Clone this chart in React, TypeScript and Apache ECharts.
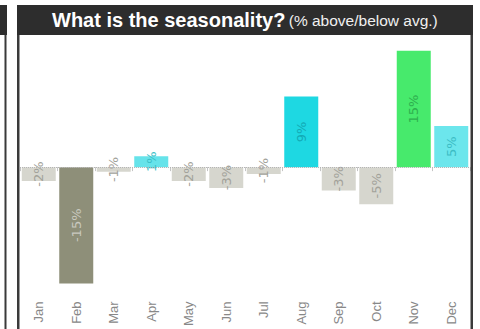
import React, { useEffect, useRef } from "react";
import * as echarts from "echarts";

const months = ["Jan", "Feb", "Mar", "Apr", "May", "Jun", "Jul", "Aug", "Sep", "Oct", "Nov", "Dec"];
const seasonality = [-1.8, -15.0, -0.6, 1.4, -1.8, -2.7, -0.9, 9.1, -3.0, -4.8, 15.0, 5.3];
const titleMain = "What is the seasonality?";
const titleSub = "(% above/below avg.)";

function barColor(v: number): string {
  if (v <= -10) return "#8e8f79";
  if (v < 0) return "#d6d6ce";
  if (v < 3) return "#66e3ea";
  if (v < 7) return "#6ce6ec";
  if (v < 12) return "#1ed8e2";
  return "#47ea6c";
}

function labelColor(v: number): string {
  if (v <= -10) return "#c9c9bf";
  if (v < 0) return "#a2a29a";
  if (v < 3) return "#3bbfc8";
  if (v < 7) return "#3cbcc4";
  if (v < 12) return "#12aab5";
  return "#2eaf4e";
}

export default function App() {
  const ref = useRef<HTMLDivElement>(null);
  useEffect(() => {
    if (!ref.current) return;
    const chart = echarts.init(ref.current, undefined, { renderer: "svg" });
    chart.setOption({
      animation: false,
      backgroundColor: "#ffffff",
      grid: { left: 20, top: 40, width: 450, height: 257 },
      xAxis: {
        type: "category",
        data: months,
        axisLine: { show: false },
        axisTick: { show: true, length: 4, lineStyle: { color: "#c4c4c4" } },
        axisLabel: {
          rotate: 90,
          fontSize: 13,
          color: "#888888",
          margin: 6,
          fontFamily: "Liberation Sans",
        },
      },
      yAxis: {
        type: "value",
        min: -16.55,
        max: 16.4,
        show: false,
        splitLine: { show: false },
      },
      series: [
        {
          type: "bar",
          barWidth: 34,
          data: seasonality.map((v) => ({
            value: v,
            itemStyle: { color: barColor(v) },
            label: { color: labelColor(v) },
          })),
          label: {
            show: true,
            position: "inside",
            rotate: 90,
            fontSize: 13,
            fontFamily: "DejaVu Sans",
            formatter: (p: any) => Math.round(p.value) + "%",
          },
          markLine: {
            silent: true,
            symbol: "none",
            label: { show: false },
            lineStyle: { type: "dotted", color: "#b5b5b5", width: 1 },
            data: [{ yAxis: 0 }],
          },
        },
      ],
      graphic: [
        { type: "rect", shape: { x: -10, y: 5, width: 17, height: 30 }, style: { fill: "#2d2d2d" }, z: 10 },
        { type: "rect", shape: { x: 4.5, y: 35, width: 2, height: 300 }, style: { fill: "#3a3a3a" }, z: 10 },
        { type: "rect", shape: { x: 17, y: 5, width: 456, height: 30 }, style: { fill: "#2d2d2d" }, z: 10 },
        { type: "rect", shape: { x: 17, y: 35, width: 2.5, height: 300 }, style: { fill: "#3a3a3a" }, z: 10 },
        { type: "rect", shape: { x: 470.5, y: 35, width: 2.5, height: 300 }, style: { fill: "#3a3a3a" }, z: 10 },
        {
          type: "text",
          x: 52,
          y: 20,
          z: 11,
          style: {
            text: "{a|" + titleMain + "} {b|" + titleSub + "}",
            verticalAlign: "middle",
            rich: {
              a: { fontSize: 20, fontWeight: "bold", fill: "#ffffff", fontFamily: "Liberation Sans" },
              b: { fontSize: 15.5, fill: "#f0f0f0", fontFamily: "Liberation Sans" },
            },
          },
        },
      ],
    });
    return () => chart.dispose();
  }, []);
  return (
    <div
      ref={ref}
      style={{ position: "fixed", left: 0, top: 0, width: 480, height: 329 }}
    />
  );
}
